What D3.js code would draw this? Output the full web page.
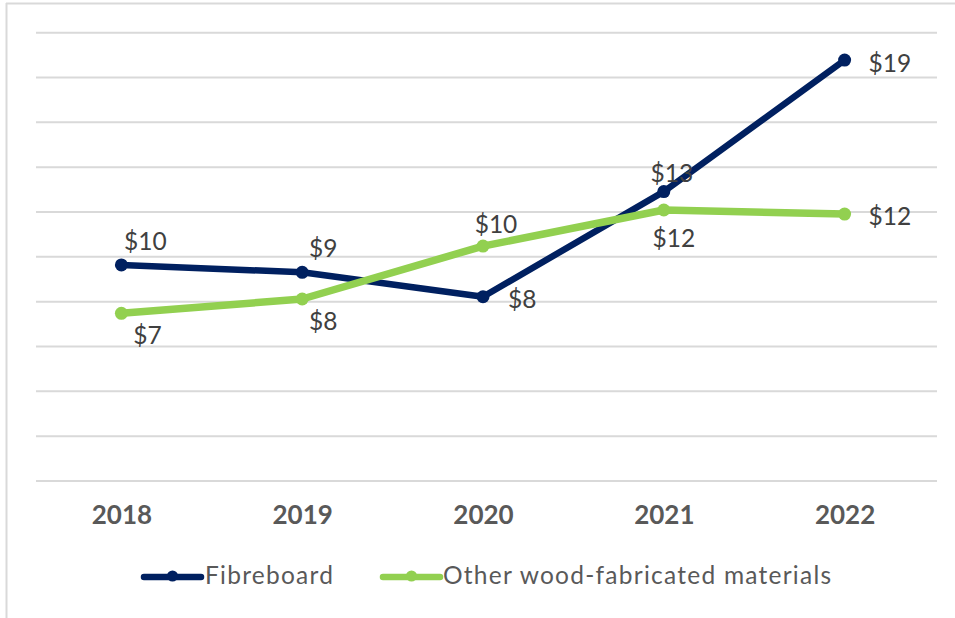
<!DOCTYPE html>
<html>
<head>
<meta charset="utf-8">
<script src="https://cdn.jsdelivr.net/npm/d3@7"></script>
<style>
  html, body { margin: 0; padding: 0; background: #ffffff; }
  svg { display: block; }
  text { font-family: Lato, "Open Sans", "Liberation Sans", sans-serif; }
</style>
</head>
<body>
<svg id="chart" width="955" height="618"></svg>
<script>
// ---- data ----
const years = ["2018", "2019", "2020", "2021", "2022"];
const fibreboard = [9.64, 9.31, 8.22, 12.91, 18.78];
const otherWood = [7.48, 8.12, 10.48, 12.09, 11.91];
const seriesNames = ["Fibreboard", "Other wood-fabricated materials"];
const yTicks = [0, 2, 4, 6, 8, 10, 12, 14, 16, 18, 20];

// label placement per point: "above", "below", "right"
const fibreLabelPos = ["above", "above", "right", "above", "right"];
const otherLabelPos = ["below", "below", "above", "below", "right"];
// small manual nudges (dx, dy) as seen in the original
const fibreNudge = [[24, -15], [21, -15], [25, 11], [8, -10], [24, 12]];
const otherNudge = [[26, 31], [21, 31], [13, -13], [10, 37], [24, 11]];

// ---- layout ----
const svg = d3.select("#chart");
const colors = ["#002060", "#92D050"];

const x = d3.scalePoint().domain(years).range([31, 935]).padding(0.5);
const y = d3.scaleLinear().domain([0, 20]).range([481, 32.7]);

// chart border (top & left visible)
svg.append("line").attr("x1", 6).attr("x2", 955).attr("y1", 3.5).attr("y2", 3.5)
  .attr("stroke", "#d9d9d9").attr("stroke-width", 2);
svg.append("line").attr("x1", 6.5).attr("x2", 6.5).attr("y1", 3).attr("y2", 618)
  .attr("stroke", "#d9d9d9").attr("stroke-width", 2);

// gridlines
svg.append("g").selectAll("line").data(yTicks).join("line")
  .attr("x1", 36).attr("x2", 937)
  .attr("y1", d => y(d)).attr("y2", d => y(d))
  .attr("stroke", "#d9d9d9").attr("stroke-width", 2);

// x axis labels
const xAxis = d3.axisBottom(x).tickSize(0).tickPadding(0);
const gx = svg.append("g").call(xAxis);
gx.select(".domain").remove();
gx.selectAll("text")
  .attr("y", 524).attr("dy", null)
  .attr("fill", "#595959")
  .style("font-family", "Lato, 'Open Sans', sans-serif")
  .style("font-size", "26px").style("font-weight", "bold");

const series = [
  { name: seriesNames[0], values: fibreboard, color: colors[0], pos: fibreLabelPos, nudge: fibreNudge, width: 6.5 },
  { name: seriesNames[1], values: otherWood, color: colors[1], pos: otherLabelPos, nudge: otherNudge, width: 7.5 }
];

const line = d3.line().x((d, i) => x(years[i])).y(d => y(d));
const fmt = d3.format("$.0f");

series.forEach(s => {
  svg.append("path").datum(s.values)
    .attr("d", line)
    .attr("fill", "none")
    .attr("stroke", s.color)
    .attr("stroke-width", s.width)
    .attr("stroke-linejoin", "round")
    .attr("stroke-linecap", "round");
  svg.append("g").selectAll("circle").data(s.values).join("circle")
    .attr("cx", (d, i) => x(years[i]))
    .attr("cy", d => y(d))
    .attr("r", 6.5)
    .attr("fill", s.color);
});

series.forEach(s => {
  svg.append("g").selectAll("text").data(s.values).join("text")
    .attr("x", (d, i) => x(years[i]) + s.nudge[i][0])
    .attr("y", (d, i) => y(d) + s.nudge[i][1])
    .attr("text-anchor", (d, i) => s.pos[i] === "right" ? "start" : "middle")
    .attr("fill", "#404040")
    .style("font-size", "24.5px")
    .text(d => fmt(d));
});

// legend
const legendItems = [
  { name: seriesNames[0], color: colors[0], x0: 144, x1: 201, tx: 205 },
  { name: seriesNames[1], color: colors[1], x0: 383, x1: 440, tx: 443 }
];
const lg = svg.append("g");
legendItems.forEach(it => {
  lg.append("line").attr("x1", it.x0).attr("x2", it.x1).attr("y1", 577).attr("y2", 577)
    .attr("stroke", it.color).attr("stroke-width", 6.5).attr("stroke-linecap", "round");
  lg.append("circle").attr("cx", (it.x0 + it.x1) / 2).attr("cy", 576).attr("r", 5.5).attr("fill", it.color);
  lg.append("text").attr("x", it.tx).attr("y", 583.5)
    .attr("fill", "#595959").style("font-size", "24.5px")
    .style("letter-spacing", "1.25px")
    .text(it.name);
});
</script>
</body>
</html>
